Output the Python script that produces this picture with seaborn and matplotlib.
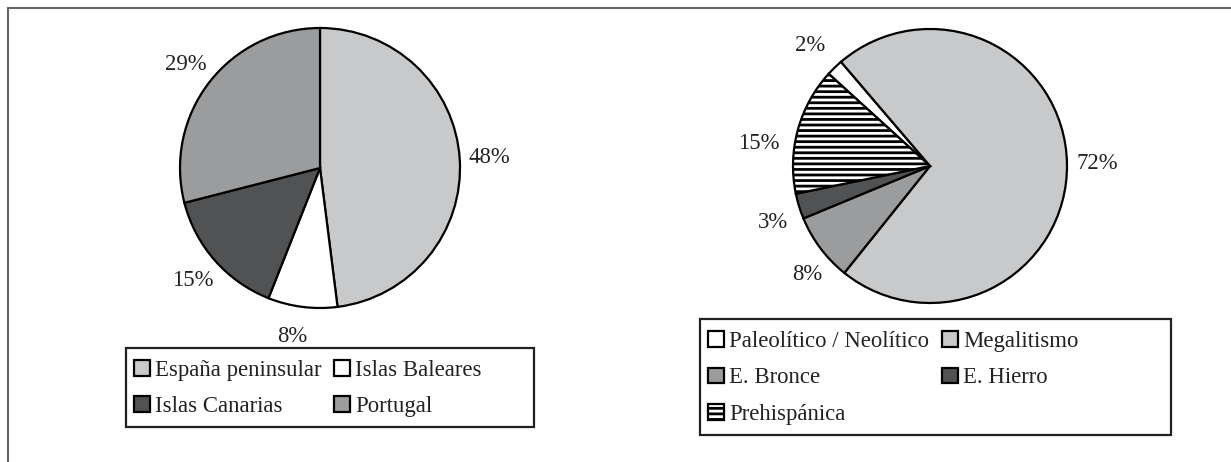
import matplotlib
matplotlib.use("Agg")
import matplotlib.pyplot as plt
from matplotlib.lines import Line2D
from matplotlib.patches import Rectangle
import seaborn as sns

# data -------------------------------------------------------------
regiones = ["España peninsular", "Islas Baleares", "Islas Canarias", "Portugal"]
reg_pct = [48, 8, 15, 29]

periodos = ["Paleolítico / Neolítico", "Megalitismo", "E. Bronce", "E. Hierro", "Prehispánica"]
per_pct = [2, 72, 8, 3, 15]

# greys of the original
light, white, dark, mid = "#c8c9cb", "#ffffff", "#515254", "#9b9c9e"
reg_colors = sns.color_palette([light, white, dark, mid])
per_colors = sns.color_palette([white, light, mid, dark, white])

sns.set_theme(style="white")
plt.rcParams["font.family"] = ["Liberation Serif", "DejaVu Serif"]
plt.rcParams["hatch.linewidth"] = 2.0
fs = 16.4
txt_col = "#222222"

W, H = 1231, 462
fig = plt.figure(figsize=(W / 100, H / 100), dpi=100)


def px_axes(cx, cy, r):
    return fig.add_axes([(cx - r) / W, (H - cy - r) / H, 2 * r / W, 2 * r / H])


wedge_kw = dict(edgecolor="black", linewidth=1.6)

# left pie ----------------------------------------------------------
ax1 = px_axes(320, 168, 140)
w1, _, t1 = ax1.pie(reg_pct, colors=reg_colors, startangle=90, counterclock=False,
                    radius=1, autopct=lambda p: f"{p:.0f}%", pctdistance=1.21,
                    wedgeprops=wedge_kw, textprops=dict(fontsize=fs, color=txt_col))
x, y = t1[1].get_position()
t1[1].set_position((x * 1.3, y))
ax1.set_xlim(-1, 1)
ax1.set_ylim(-1, 1)
ax1.axis("off")

# right pie ---------------------------------------------------------
ax2 = px_axes(930, 166, 137)
w2, _, t2 = ax2.pie(per_pct, colors=per_colors, startangle=137.7, counterclock=False,
                    radius=1, autopct=lambda p: f"{p:.0f}%", pctdistance=1.22,
                    wedgeprops=wedge_kw, textprops=dict(fontsize=fs, color=txt_col))
w2[4].set_hatch("---")
# nudge a few labels to where the original has them
for i, (fx, fy) in {0: (1.03, 1.0), 2: (0.92, 1.08), 3: (0.98, 1.15), 4: (1.06, 0.5)}.items():
    x, y = t2[i].get_position()
    t2[i].set_position((x * fx, y * fy))
ax2.set_xlim(-1, 1)
ax2.set_ylim(-1, 1)
ax2.axis("off")

# legends (filled column-wise, so reorder to read row-wise) ---------
leg_kw = dict(ncol=2, frameon=False, fontsize=fs, loc="upper left",
              borderpad=0, borderaxespad=0, handlelength=0.7, handleheight=0.7,
              handletextpad=0.22, columnspacing=0.57, labelspacing=0.64,
              labelcolor=txt_col)

o1 = [0, 2, 1, 3]
fig.legend([w1[i] for i in o1], [regiones[i] for i in o1],
           bbox_to_anchor=(134 / W, 1 - 360 / H), **leg_kw)
o2 = [0, 2, 4, 1, 3]
fig.legend([w2[i] for i in o2], [periodos[i] for i in o2],
           bbox_to_anchor=(708 / W, 1 - 331 / H), **dict(leg_kw, labelspacing=0.68))

# legend boxes
for (x0, y0, x1, y1) in [(126, 348, 534, 427), (700, 319, 1171, 435)]:
    fig.patches.append(Rectangle((x0 / W, 1 - y1 / H), (x1 - x0) / W, (y1 - y0) / H,
                                 transform=fig.transFigure, fill=False,
                                 edgecolor="#222222", linewidth=1.6))

# outer frame (top and left only)
fig.lines.append(Line2D([7.5 / W, 1], [1 - 7.5 / H, 1 - 7.5 / H],
                        transform=fig.transFigure, color="#666666", linewidth=1.5))
fig.lines.append(Line2D([7.5 / W, 7.5 / W], [0, 1 - 7.5 / H],
                        transform=fig.transFigure, color="#666666", linewidth=1.5))

fig.savefig("out.png", dpi=100, facecolor="white")
